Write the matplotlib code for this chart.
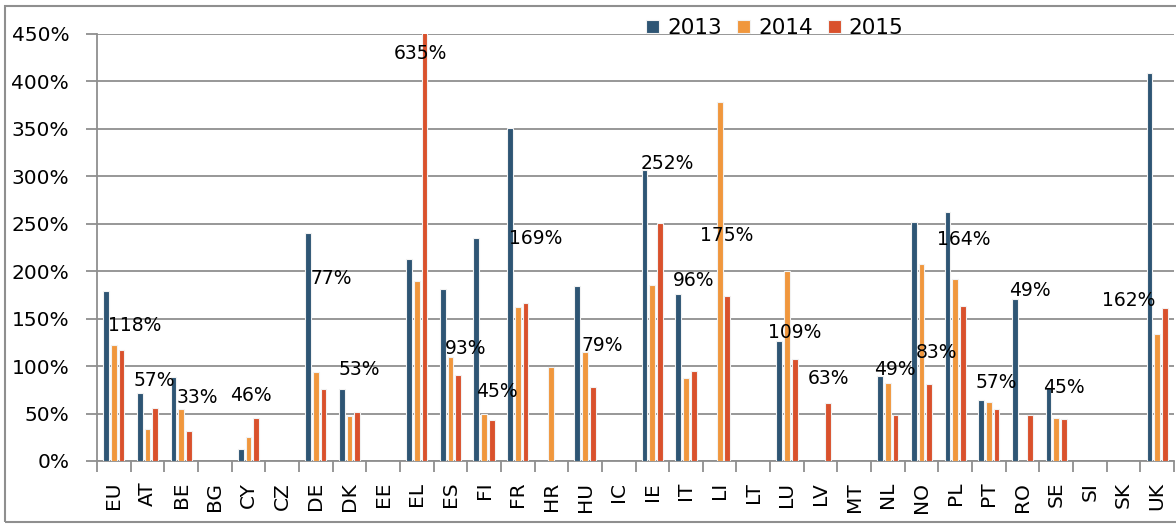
import numpy as np
import matplotlib
matplotlib.use("Agg")
import matplotlib.pyplot as plt
from matplotlib.patches import Rectangle

countries = ["EU", "AT", "BE", "BG", "CY", "CZ", "DE", "DK", "EE", "EL", "ES", "FI",
             "FR", "HR", "HU", "IC", "IE", "IT", "LI", "LT", "LU", "LV", "MT", "NL",
             "NO", "PL", "PT", "RO", "SE", "SI", "SK", "UK"]
nan = np.nan
v2013 = [179, 72, 88, nan, 13, nan, 240, 76, nan, 213, 181, 235,
         351, nan, 184, nan, 307, 176, nan, nan, 126, nan, nan, 90,
         252, 262, 64, 171, 77, nan, nan, 409]
v2014 = [122, 34, 55, nan, 25, nan, 94, 47, nan, 190, 110, 50,
         162, 99, 115, nan, 186, 87, 378, nan, 200, nan, nan, 82,
         208, 192, 62, nan, 45, nan, nan, 134]
v2015 = [117, 56, 32, nan, 45, nan, 76, 52, nan, 635, 91, 43,
         167, nan, 78, nan, 251, 95, 174, nan, 108, 61, nan, 48,
         81, 163, 55, 48, 44, nan, nan, 161]
years = ["2013", "2014", "2015"]
colors = ["#2E5574", "#F0973D", "#D9512C"]

# data labels: (country, text)
label_cc = ["EL", "EU", "AT", "BE", "CY", "DE", "DK", "ES", "FI", "FR", "HU", "IE",
            "IT", "LI", "LU", "LV", "NL", "NO", "PL", "PT", "RO", "SE", "UK"]
label_txt = ["635%", "118%", "57%", "33%", "46%", "77%", "53%", "93%", "45%", "169%", "79%", "252%",
             "96%", "175%", "109%", "63%", "49%", "83%", "164%", "57%", "49%", "45%", "162%"]
# label placement (x offset in categories, y in %)
label_dx = [0.1, 0.62, 0.19, 0.47, 0.08, 0.45, 0.28, 0.45, 0.39, 0.53, 0.52, 0.44,
            0.22, 0.22, 0.24, 0.22, 0.22, 0.44, 0.24, 0.22, 0.22, 0.24, -0.85]
label_y = [429, 143, 85, 67, 69.5, 192.5, 96, 118.7, 73, 234.6, 121.5, 313,
           190.7, 238, 135, 87, 96, 114, 233.6, 82.5, 179.5, 77, 169]

fig = plt.figure(figsize=(11.76, 5.32), dpi=100)
ax = fig.add_axes([97 / 1176, 1 - 461 / 532, 1077 / 1176, 427 / 532])

x = np.arange(len(countries))
w = 0.17
step = 0.229
for k, vals in enumerate([v2013, v2014, v2015]):
    ax.bar(x + (k - 1) * step, vals, width=w, color=colors[k], label=years[k],
           edgecolor="#f2f2f2", linewidth=0.8, zorder=3)

for cc, t, dx, yy in zip(label_cc, label_txt, label_dx, label_y):
    i = countries.index(cc)
    ax.text(i + dx, yy, t, ha="center", va="center", fontsize=13.5, color="black", zorder=5)

ax.set_xlim(-0.5, len(countries) - 0.5)
ax.set_ylim(0, 450)
ax.set_yticks(np.arange(0, 451, 50))
ax.set_yticklabels([f"{v}%" for v in range(0, 451, 50)], fontsize=14.5)
ax.set_xticks(x)
ax.set_xticklabels(countries, rotation=90, fontsize=14.5)
ax.set_xticks(np.arange(-0.5, len(countries), 1), minor=True)
ax.tick_params(axis="x", which="major", length=0, pad=15)
ax.tick_params(axis="x", which="minor", length=8, color="#8f8f8f", width=1.3)
ax.tick_params(axis="y", length=8, color="#8f8f8f", width=1.3, pad=12)
ax.yaxis.grid(True, color="#8f8f8f", linewidth=1.3, zorder=0)
ax.set_axisbelow(True)
for s in ["top", "right"]:
    ax.spines[s].set_visible(False)
for s in ["left", "bottom"]:
    ax.spines[s].set_color("#8f8f8f")
    ax.spines[s].set_linewidth(1.3)

fig.legend(loc="center", bbox_to_anchor=(0.659, 0.947), ncol=3, frameon=False,
           fontsize=15.5, handlelength=0.58, handleheight=0.6, handletextpad=0.38,
           columnspacing=0.72, borderpad=0)

fig.patches.append(Rectangle((5 / 1176, 1 - 522 / 532), 1175 / 1176, 516 / 532,
                             transform=fig.transFigure, fill=False,
                             edgecolor="#8f8f8f", linewidth=1.5))

fig.savefig("out.png", dpi=100)
